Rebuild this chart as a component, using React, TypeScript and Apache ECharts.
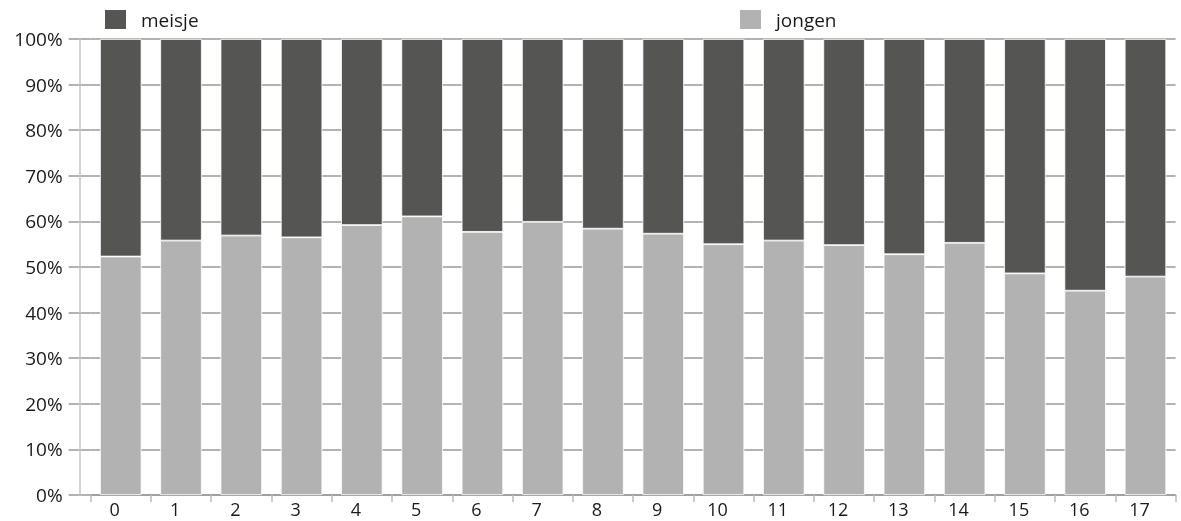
import React, { useEffect, useRef } from "react";
import * as echarts from "echarts";

const categories = ["0","1","2","3","4","5","6","7","8","9","10","11","12","13","14","15","16","17"];
const jongen = [52.3, 55.8, 56.9, 56.5, 59.2, 61.1, 57.7, 59.9, 58.4, 57.3, 55.0, 55.8, 54.8, 52.8, 55.3, 48.6, 44.8, 47.9];
const meisje = jongen.map((v) => +(100 - v).toFixed(1));

const FONT = "'Open Sans', 'Noto Sans', sans-serif";
const DARK = "#555553";
const LIGHT = "#b2b2b2";
const GRID = "#9a9a9a";

export default function App() {
  const ref = useRef<HTMLDivElement>(null);
  useEffect(() => {
    if (!ref.current) return;
    const chart = echarts.init(ref.current, undefined, { renderer: "svg" });
    chart.setOption({
      animation: false,
      textStyle: { fontFamily: FONT },
      legend: [
        {
          data: ["meisje"],
          left: 98,
          top: 3,
          itemWidth: 23,
          itemHeight: 21,
          textStyle: { fontFamily: FONT, fontSize: 19, color: "#1a1a1a", padding: [0, 0, 0, 9] },
          icon: "rect",
        },
        {
          data: ["jongen"],
          left: 733,
          top: 3,
          itemWidth: 23,
          itemHeight: 21,
          textStyle: { fontFamily: FONT, fontSize: 19, color: "#1a1a1a", padding: [0, 0, 0, 9] },
          icon: "rect",
        },
      ],
      grid: { left: 90.6, right: 5.4, top: 39, bottom: 26 },
      xAxis: {
        type: "category",
        data: categories,
        axisLine: { show: true, lineStyle: { color: GRID, width: 1.5 } },
        axisTick: { show: true, length: 7, lineStyle: { color: "#bbbbbb", width: 1.5 } },
        axisLabel: { fontFamily: FONT, fontSize: 18, color: "#1a1a1a", margin: 5, padding: [0, 12, 0, 0] },
      },
      yAxis: {
        type: "value",
        min: 0,
        max: 100,
        interval: 10,
        axisLine: { show: false },
        axisTick: { show: true, length: 22, lineStyle: { color: GRID, width: 1.5 } },
        splitLine: { show: true, lineStyle: { color: GRID, width: 1.5 } },
        axisLabel: { formatter: "{value}%", fontFamily: FONT, fontSize: 19, color: "#1a1a1a", margin: 28 },
      },
      graphic: [
        {
          type: "line",
          shape: { x1: 80, y1: 39, x2: 80, y2: 495 },
          style: { stroke: "#c4c4c4", lineWidth: 1.5 },
          z: 10,
        },
      ],
      series: [
        {
          name: "jongen",
          type: "bar",
          stack: "a",
          data: jongen,
          barWidth: 41.5,
          itemStyle: { color: LIGHT, borderColor: "#ffffff", borderWidth: 0.8 },
        },
        {
          name: "meisje",
          type: "bar",
          stack: "a",
          data: meisje,
          barWidth: 41.5,
          itemStyle: { color: DARK, borderColor: "#ffffff", borderWidth: 0.8 },
        },
      ],
    });
    return () => chart.dispose();
  }, []);
  return <div ref={ref} style={{ position: "fixed", left: 0, top: 0, width: 1181, height: 521 }} />;
}
